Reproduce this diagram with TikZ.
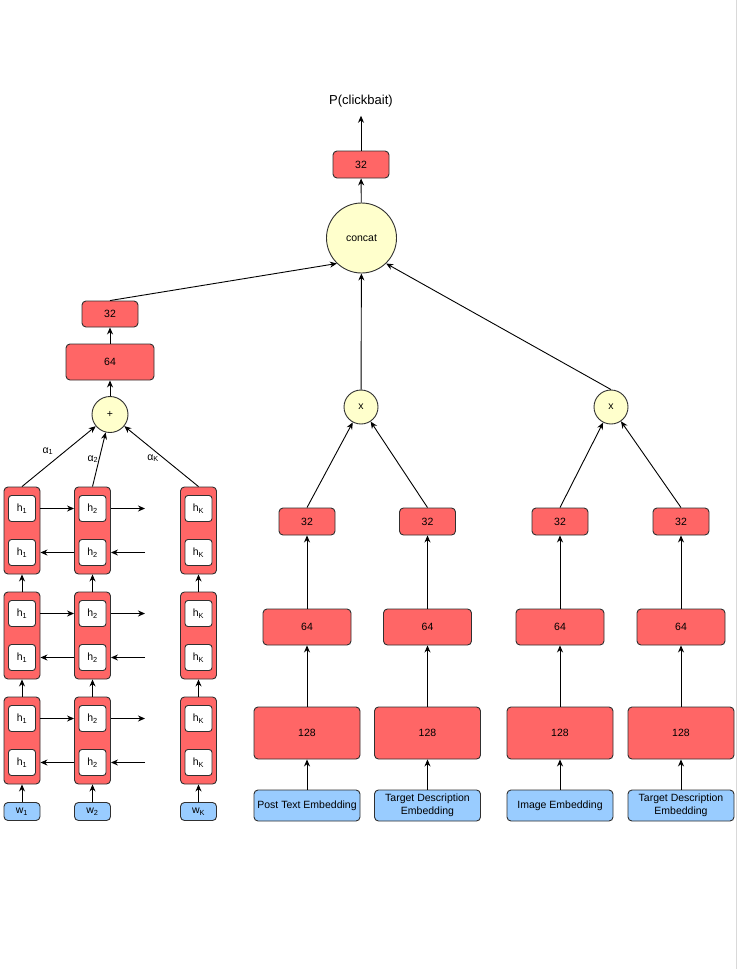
\documentclass[tikz,border=0pt]{standalone}
\usepackage{fontspec}
\setmainfont{Liberation Sans}
\usetikzlibrary{arrows.meta,calc}
\definecolor{boxred}{HTML}{FF6666}
\definecolor{circyel}{HTML}{FFFFCC}
\definecolor{embblue}{HTML}{99CCFF}
\definecolor{edgecol}{HTML}{303030}
\begin{document}
\begin{tikzpicture}[x=1pt,y=-1pt,
  txt/.style={font=\fontsize{10.5}{12.5}\selectfont},
  layer/.style={draw=edgecol, fill=boxred, rounded corners=4pt, line width=0.9pt, inner sep=0pt, txt},
  emb/.style={draw=edgecol, fill=embblue, rounded corners=4pt, line width=0.9pt, inner sep=0pt, align=center, txt},
  op/.style={draw=edgecol, fill=circyel, circle, line width=0.9pt, inner sep=0pt, txt},
  cell/.style={draw=edgecol, fill=white, rounded corners=3pt, line width=0.9pt, minimum width=27pt, minimum height=26pt, inner sep=0pt, txt},
  outer/.style={layer, minimum width=36pt, minimum height=87pt},
  wbox/.style={emb, minimum width=36pt, minimum height=18pt},
  s32/.style={layer, minimum width=56pt, minimum height=27pt},
  s64/.style={layer, minimum width=88pt, minimum height=36pt},
  s128/.style={layer, minimum width=106pt, minimum height=52pt},
  sEmb/.style={emb, minimum width=106pt, minimum height=31pt},
  arr/.style={-{Stealth[length=7pt,width=6pt]}, line width=0.9pt, draw=black},
  lbl/.style={txt, inner sep=0pt}
]
\useasboundingbox (0,0) rectangle (737,969);
\fill[white] (0,0) rectangle (737,969);
\draw[black!15, line width=1pt] (736,0) -- (736,969);

% top
\node[font=\fontsize{13}{15}\selectfont, inner sep=8pt] (out) at (361,101.5) {P(clickbait)};
\node[s32] (top32) at (361,164.5) {32};
\node[op, minimum size=70pt] (concat) at (361.5,238) {concat};
\draw[arr] (top32.north) -- (out.south);
\draw[arr] (concat) -- (top32);

% left branch
\node[s32, minimum height=26pt] (l32) at (110,314) {32};
\node[s64] (l64) at (110,362) {64};
\node[op, minimum size=36pt] (plus) at (110,414.5) {+};
\draw[arr] (l64) -- (l32);
\draw[arr] (plus) -- (l64);
\draw[arr] (l32.north) -- (concat.226);

% RNN columns
\foreach \c/\x/\s in {1/22/1,2/92.5/2,K/198.5/K} {
  \foreach \b/\y in {a/530.5,b/635.5,c/740.5} {
    \node[outer] (o\c\b) at (\x,\y) {};
    \node[cell] (u\c\b) at (\x,\y-22) {h\textsubscript{\s}};
    \node[cell] (d\c\b) at (\x,\y+22) {h\textsubscript{\s}};
  }
  \node[wbox] (w\c) at (\x,811.5) {w\textsubscript{\s}};
  \draw[arr] (w\c) -- (o\c c);
  \draw[arr] (o\c c) -- (o\c b);
  \draw[arr] (o\c b) -- (o\c a);
}
\foreach \b/\y in {a/530.5,b/635.5,c/740.5} {
  \coordinate (fr\b) at (145,\y-22);
  \coordinate (fl\b) at (145,\y+22);
  \draw[arr] (o1\b.east |- u1\b) -- (o2\b.west |- u2\b);
  \draw[arr] (o2\b.east |- u2\b) -- (fr\b);
  \draw[arr] (o2\b.west |- d2\b) -- (o1\b.east |- d1\b);
  \draw[arr] (fl\b) -- (o2\b.east |- d2\b);
}
\draw[arr] (o1a.north) -- (plus);
\draw[arr] (o2a.north) -- (plus);
\draw[arr] (oKa.north) -- (plus);
\node[lbl] (al1) at (48,451) {α\textsubscript{1}};
\node[lbl] (al2) at (93,459) {α\textsubscript{2}};
\node[lbl] (alK) at (153,458) {α\textsubscript{K}};

% middle and right branches
\node[op, minimum size=34pt] (mx) at (361,407) {x};
\node[op, minimum size=34pt] (rx) at (611,407) {x};
\draw[arr] (mx) -- (concat);
\draw[arr] (rx.north) -- (concat.314);

\foreach \n/\x/\t in {A/307/{Post Text Embedding},B/427.5/{Target Description\\Embedding},C/560/{Image Embedding},D/681/{Target Description\\Embedding}} {
  \node[s32] (t\n) at (\x,521.5) {32};
  \node[s64] (s\n) at (\x,627) {64};
  \node[s128] (f\n) at (\x,733) {128};
  \node[sEmb] (e\n) at (\x,805.5) {\t};
  \draw[arr] (e\n) -- (f\n);
  \draw[arr] (f\n) -- (s\n);
  \draw[arr] (s\n) -- (t\n);
}
\draw[arr] (tA.north) -- (mx);
\draw[arr] (tB.north) -- (mx);
\draw[arr] (tC.north) -- (rx);
\draw[arr] (tD.north) -- (rx);
\end{tikzpicture}
\end{document}
